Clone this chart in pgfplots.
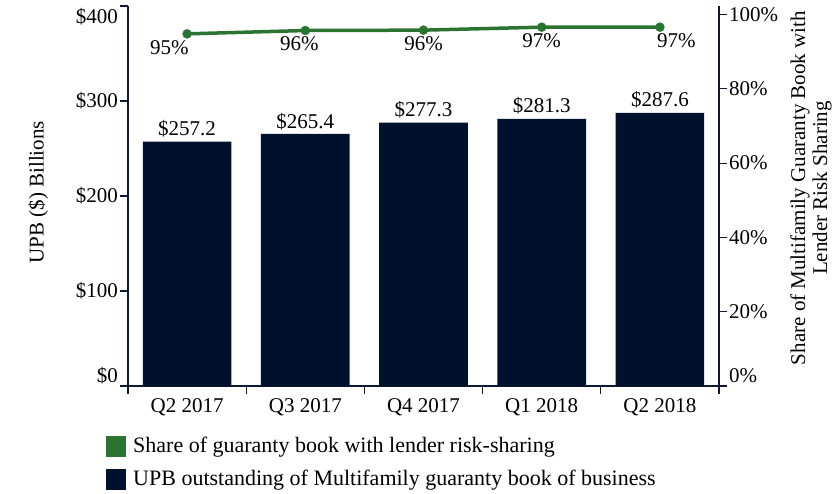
\documentclass[border=0pt]{standalone}
\usepackage{fontspec}
\setmainfont{Liberation Serif}
\usepackage{pgfplots}
\pgfplotsset{compat=1.18}
\definecolor{navy}{HTML}{00112E}
\definecolor{axcol}{HTML}{0E1A33}
\definecolor{grn}{HTML}{2A7330}
\newcommand\lab[2]{\smash{\raisebox{#1}{#2}}}
\begin{document}
\fontsize{21}{25}\selectfont
\begin{tikzpicture}
\useasboundingbox (0,0) rectangle (838pt,493pt);
\begin{axis}[
  at={(128pt,107pt)}, anchor=south west,
  width=591pt, height=380pt, scale only axis,
  xmin=-0.5, xmax=4.5, ymin=0, ymax=400,
  axis x line*=bottom, axis y line*=left,
  axis line style={axcol, line width=1.2pt, -},
  x axis line style={-}, y axis line style={-},
  tick align=outside, major tick length=8pt,
  tick style={axcol, line width=1.2pt},
  xtick pos=bottom, ytick pos=left,
  xtick={-0.5,0.5,1.5,2.5,3.5,4.5}, xticklabels={},
  extra x ticks={0,1,2,3,4},
  extra x tick labels={Q2 2017,Q3 2017,Q4 2017,Q1 2018,Q2 2018},
  extra x tick style={major tick length=0pt, xticklabel style={yshift=-5pt}},
  ytick={0,100,200,300,400},
  yticklabels={\lab{4pt}{\$0},\$100,\$200,\$300,\lab{-18pt}{\$400}},
  yticklabel style={inner sep=2pt},
  ylabel={UPB (\$) Billions},
  ylabel style={at={(axis description cs:-0.152,0.51)}, anchor=center},
  /pgf/number format/assume math mode=true,
]
\addplot[ybar, bar width=0.75, fill=navy, draw=none,
  nodes near coords={\$\pgfmathprintnumber[fixed,fixed zerofill,precision=1]{\pgfplotspointmeta}},
  point meta=y,
  every node near coord/.append style={anchor=south, inner sep=2pt, yshift=2pt, text=black}]
  coordinates {(0,257.2) (1,265.4) (2,277.3) (3,281.3) (4,287.6)};
\end{axis}
\begin{axis}[
  at={(128pt,107pt)}, anchor=south west,
  width=591pt, height=380pt, scale only axis,
  xmin=-0.5, xmax=4.5, ymin=0, ymax=102.3,
  axis x line=none, axis y line*=right,
  axis line style={axcol, line width=1.2pt, -},
  y axis line style={-},
  tick align=outside, major tick length=8pt,
  tick style={axcol, line width=1.2pt},
  ytick pos=right, xtick=\empty,
  ytick={0,20,40,60,80,100},
  yticklabels={\lab{4pt}{0\%},20\%,40\%,60\%,80\%,100\%},
  yticklabel style={inner sep=2pt},
  ylabel={Share of Multifamily Guaranty Book with\\Lender Risk Sharing},
  ylabel style={at={(axis description cs:1.1557,0.521)}, anchor=center, align=center, font=\fontsize{21}{22}\selectfont},
  /pgf/number format/assume math mode=true,
  legend image code/.code={\fill[#1] (0pt,-10.5pt) rectangle (20pt,10.5pt);},
  legend cell align=left,
  legend style={at={(axis description cs:-0.0372,-0.1316)}, anchor=north west,
    draw=none, fill=none, inner sep=0pt, column sep=7pt, row sep=12pt,
    nodes={inner sep=0pt}, font=\fontsize{22}{26}\selectfont},
]
\addplot[grn, line width=3.5pt, mark=*, mark size=4.5pt,
  mark options={fill=grn, draw=grn, line width=0.4pt}, forget plot]
  coordinates {(0,94.8) (1,95.7) (2,95.8) (3,96.6) (4,96.6)};
\addplot[draw=none, mark=none, forget plot,
  nodes near coords={\pgfmathprintnumber{\pgfplotspointmeta}\%},
  point meta=explicit,
  every node near coord/.append style={anchor=north, inner sep=2pt, yshift=-4pt, text=black}]
  table[meta=m] {
x y m
-0.15 94.8 95
0.95 95.7 96
2 95.8 96
3 96.6 97
4.14 96.6 97
};
\addlegendimage{fill=grn, draw=none}
\addlegendentry{Share of guaranty book with lender risk-sharing}
\addlegendimage{fill=navy, draw=none}
\addlegendentry{UPB outstanding of Multifamily guaranty book of business}
\end{axis}
\end{tikzpicture}
\end{document}
